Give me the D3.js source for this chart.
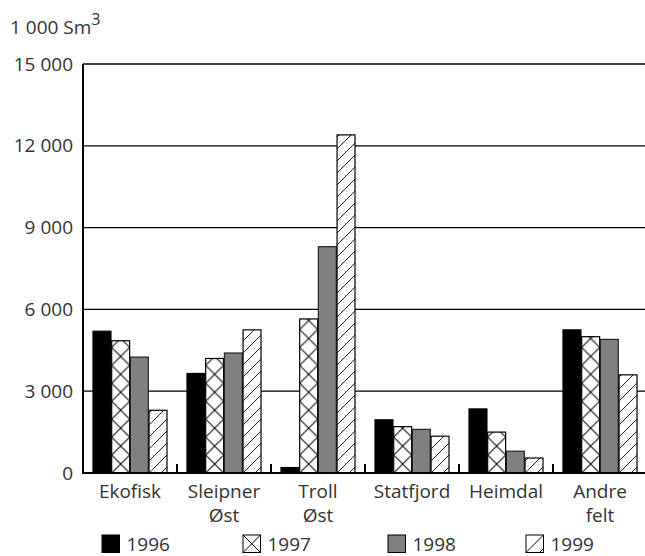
<!DOCTYPE html>
<html>
<head>
<meta charset="utf-8">
<script src="https://cdn.jsdelivr.net/npm/d3@7"></script>
<style>
body { margin: 0; background: #fff; }
svg text { font-family: "Open Sans", sans-serif; fill: #333; }
</style>
</head>
<body>
<svg id="chart" width="645" height="556"></svg>
<script>
// data, 1 000 Sm3
const fields = [["Ekofisk"], ["Sleipner", "Øst"], ["Troll", "Øst"], ["Statfjord"], ["Heimdal"], ["Andre", "felt"]];
const years = ["1996", "1997", "1998", "1999"];
const v1996 = [5200, 3650, 200, 1950, 2350, 5250];
const v1997 = [4850, 4200, 5650, 1700, 1500, 5000];
const v1998 = [4250, 4400, 8300, 1600, 800, 4900];
const v1999 = [2300, 5250, 12400, 1350, 550, 3600];
const yTicks = [0, 3000, 6000, 9000, 12000, 15000];

const series = [v1996, v1997, v1998, v1999];
const names = fields.map(f => f.join(" "));
const rows = [];
names.forEach((n, i) => years.forEach((y, j) => rows.push({ field: n, year: y, value: series[j][i] })));

const width = 645, height = 556;
const marginLeft = 83, marginTop = 64, marginBottom = 83;
const fontSize = 19;
const svg = d3.select("#chart");

const x = d3.scaleBand().domain(names).range([marginLeft, marginLeft + 94 * names.length]).padding(0);
const xi = d3.scaleBand().domain(years).range([10, x.bandwidth() - 10]).paddingInner(0.04);
const y = d3.scaleLinear().domain([0, 15000]).range([height - marginBottom, marginTop]);

const fmt = d => d3.format(",")(d).replace(/,/g, " ");

// gridlines
svg.append("g")
    .selectAll("line")
    .data(yTicks.filter(d => d > 0))
    .join("line")
    .attr("x1", marginLeft).attr("x2", width)
    .attr("y1", d => y(d)).attr("y2", d => y(d))
    .attr("stroke", "#000").attr("stroke-width", 1.3);

// y labels
svg.append("g")
    .selectAll("text")
    .data(yTicks)
    .join("text")
    .attr("x", 73).attr("y", d => y(d))
    .attr("dy", "0.35em")
    .attr("text-anchor", "end")
    .attr("font-size", fontSize)
    .text(fmt);

// unit
const unit = svg.append("text").attr("x", 10).attr("y", 34).attr("font-size", fontSize);
unit.append("tspan").text("1 000 Sm");
unit.append("tspan").attr("font-size", 16).attr("dy", -9).text("3");

// patterns, one per bar so the tile lines up with the bar edge
const defs = svg.append("defs");
const bw = xi.bandwidth();
rows.forEach((d, i) => {
    const bx = x(d.field) + xi(d.year);
    if (d.year === "1997") {
        const p = defs.append("pattern").attr("id", "p" + i)
            .attr("patternUnits", "userSpaceOnUse")
            .attr("x", bx).attr("y", y(0))
            .attr("width", bw).attr("height", bw);
        p.append("rect").attr("width", bw).attr("height", bw).attr("fill", "#fff");
        p.append("path").attr("d", `M0,0L${bw},${bw}M${bw},0L0,${bw}`)
            .attr("stroke", "#000").attr("stroke-width", 1);
    } else if (d.year === "1999") {
        const s = 12;
        const p = defs.append("pattern").attr("id", "p" + i)
            .attr("patternUnits", "userSpaceOnUse")
            .attr("x", bx).attr("y", y(0))
            .attr("width", s).attr("height", s);
        p.append("rect").attr("width", s).attr("height", s).attr("fill", "#fff");
        p.append("path").attr("d", `M0,${s}L${s},0M-2,2L2,-2M${s - 2},${s + 2}L${s + 2},${s - 2}`)
            .attr("stroke", "#000").attr("stroke-width", 0.9);
    }
});

const fillFor = (d, i) => d.year === "1996" ? "#000" : d.year === "1998" ? "#808080" : `url(#p${i})`;

svg.append("g")
    .selectAll("rect")
    .data(rows)
    .join("rect")
    .attr("x", d => x(d.field) + xi(d.year))
    .attr("width", bw)
    .attr("y", d => y(d.value))
    .attr("height", d => y(0) - y(d.value))
    .attr("fill", fillFor)
    .attr("stroke", d => d.year === "1998" ? "#222" : "#000")
    .attr("stroke-width", 1.2);

// group separator ticks
svg.append("g")
    .selectAll("line")
    .data(names.slice(1).map(n => x(n)).concat([x.range()[1]]))
    .join("line")
    .attr("x1", d => d).attr("x2", d => d)
    .attr("y1", y(0) - 9).attr("y2", y(0))
    .attr("stroke", "#000").attr("stroke-width", 2);

// axes lines
svg.append("line")
    .attr("x1", marginLeft).attr("x2", marginLeft)
    .attr("y1", y(15000)).attr("y2", y(0) + 1)
    .attr("stroke", "#000").attr("stroke-width", 2);
svg.append("line")
    .attr("x1", marginLeft - 1).attr("x2", width)
    .attr("y1", y(0)).attr("y2", y(0))
    .attr("stroke", "#000").attr("stroke-width", 2);

// category labels
svg.append("g")
    .selectAll("text")
    .data(fields)
    .join("text")
    .attr("x", (d, i) => x(names[i]) + x.bandwidth() / 2)
    .attr("y", 498)
    .attr("text-anchor", "middle")
    .attr("font-size", fontSize)
    .selectAll("tspan")
    .data(d => d)
    .join("tspan")
    .attr("x", function () { return this.parentNode.getAttribute("x"); })
    .attr("dy", (d, i) => i ? 24 : 0)
    .text(d => d);

// legend
const legendX = [102, 243, 388, 526];
const lg = svg.append("g")
    .selectAll("g")
    .data(years)
    .join("g")
    .attr("transform", (d, i) => `translate(${legendX[i]},535)`);
years.forEach((yr, j) => {
    const g = d3.select(lg.nodes()[j]);
    const s = 17.5;
    if (yr === "1996" || yr === "1998") {
        g.append("rect").attr("width", s).attr("height", s)
            .attr("fill", yr === "1996" ? "#000" : "#808080")
            .attr("stroke", "#000").attr("stroke-width", 1);
    } else {
        g.append("rect").attr("width", s).attr("height", s)
            .attr("fill", "#fff").attr("stroke", "#000").attr("stroke-width", 1);
        g.append("path")
            .attr("d", yr === "1997"
                ? `M0,0L${s},${s}M${s},0L0,${s}`
                : `M0,${s}L${s},0M${s - 4},${s}L${s},${s - 4}`)
            .attr("stroke", "#000").attr("stroke-width", 1);
    }
    g.append("text").attr("x", s + 7).attr("y", s / 2).attr("dy", "0.36em")
        .attr("font-size", fontSize).text(yr);
});
</script>
</body>
</html>
